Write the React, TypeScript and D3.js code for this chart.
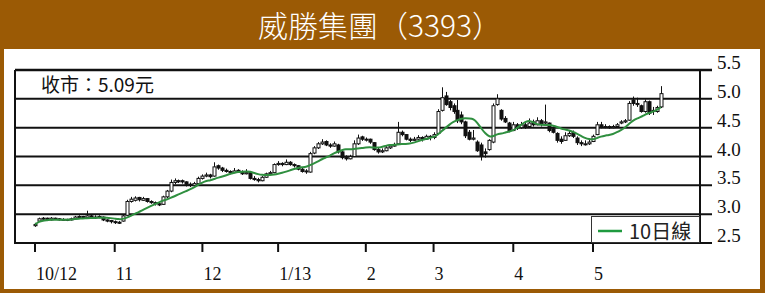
import React from "react";
import * as d3 from "d3";

const title = "威勝集團（3393）";
const lastCloseLabel = "收市：5.09元";
const legendLabel = "10日線";

const yTicks = [2.5, 3.0, 3.5, 4.0, 4.5, 5.0, 5.5];
const monthTickIndex = [0, 20, 42, 61, 83, 100, 120, 140];
const monthLabels = ["10/12", "11", "12", "1/13", "2", "3", "4", "5"];

const opens = [
  2.80, 2.88, 2.92, 2.93, 2.90, 2.93, 2.92, 2.90, 2.91, 2.90,
  2.92, 2.95, 2.96, 2.94, 2.97, 2.95, 2.94, 2.95, 2.90, 2.89,
  2.87, 2.86, 2.88, 2.98, 3.22, 3.24, 3.29, 3.24, 3.27, 3.22,
  3.20, 3.18, 3.17, 3.30, 3.40, 3.55, 3.58, 3.58, 3.56, 3.52,
  3.50, 3.53, 3.62, 3.66, 3.68, 3.66, 3.84, 3.80, 3.76, 3.74,
  3.72, 3.76, 3.74, 3.70, 3.72, 3.62, 3.60, 3.58, 3.64, 3.70,
  3.72, 3.86, 3.88, 3.86, 3.90, 3.86, 3.84, 3.78, 3.74, 3.73,
  4.06, 4.15, 4.22, 4.26, 4.20, 4.18, 4.20, 4.08, 3.98, 3.96,
  4.00, 4.22, 4.34, 4.30, 4.30, 4.24, 4.12, 4.08, 4.10, 4.15,
  4.18, 4.22, 4.42, 4.38, 4.30, 4.28, 4.30, 4.33, 4.30, 4.35,
  4.33, 4.40, 4.80, 5.05, 4.95, 4.88, 4.80, 4.72, 4.60, 4.42,
  4.30, 4.25, 4.20, 4.08, 4.12, 4.25, 4.90, 4.80, 4.66, 4.58,
  4.45, 4.55, 4.50, 4.55, 4.52, 4.60, 4.55, 4.62, 4.58, 4.58,
  4.48, 4.40, 4.30, 4.28, 4.36, 4.42, 4.32, 4.24, 4.22, 4.22,
  4.26, 4.38, 4.55, 4.52, 4.52, 4.50, 4.52, 4.58, 4.60, 4.63,
  4.98, 4.92, 4.88, 4.78, 4.95, 4.80, 4.78, 4.86,
];
const highs = [
  2.85, 2.94, 2.95, 2.94, 2.95, 2.94, 2.93, 2.93, 2.92, 2.94,
  2.97, 2.98, 2.97, 3.06, 2.99, 2.98, 2.98, 2.96, 2.91, 2.90,
  2.89, 2.88, 3.00, 3.25, 3.30, 3.31, 3.30, 3.30, 3.28, 3.24,
  3.22, 3.20, 3.32, 3.42, 3.60, 3.62, 3.60, 3.60, 3.57, 3.55,
  3.56, 3.65, 3.69, 3.72, 3.70, 3.90, 3.86, 3.82, 3.79, 3.76,
  3.80, 3.78, 3.76, 3.78, 3.73, 3.66, 3.63, 3.66, 3.72, 3.75,
  3.88, 3.92, 3.90, 3.95, 3.92, 3.88, 3.85, 3.80, 3.78, 4.08,
  4.18, 4.25, 4.30, 4.28, 4.23, 4.26, 4.22, 4.10, 4.02, 4.03,
  4.28, 4.38, 4.36, 4.33, 4.31, 4.25, 4.15, 4.14, 4.18, 4.20,
  4.24, 4.60, 4.45, 4.39, 4.33, 4.34, 4.37, 4.35, 4.38, 4.37,
  4.42, 4.82, 5.20, 5.12, 4.98, 4.92, 4.98, 4.78, 4.62, 4.46,
  4.46, 4.28, 4.24, 4.14, 4.30, 4.92, 5.08, 4.82, 4.70, 4.60,
  4.60, 4.58, 4.60, 4.58, 4.66, 4.64, 4.68, 4.65, 4.90, 4.59,
  4.52, 4.42, 4.35, 4.42, 4.46, 4.45, 4.35, 4.28, 4.28, 4.30,
  4.38, 4.60, 4.60, 4.56, 4.54, 4.55, 4.58, 4.63, 4.65, 4.96,
  5.04, 5.02, 4.90, 4.99, 4.97, 4.86, 4.88, 5.22,
];
const lows = [
  2.78, 2.87, 2.90, 2.89, 2.89, 2.90, 2.89, 2.89, 2.88, 2.89,
  2.91, 2.93, 2.92, 2.93, 2.93, 2.92, 2.93, 2.88, 2.86, 2.84,
  2.83, 2.83, 2.87, 2.97, 3.20, 3.22, 3.22, 3.23, 3.20, 3.18,
  3.15, 3.14, 3.16, 3.28, 3.38, 3.52, 3.54, 3.53, 3.48, 3.47,
  3.49, 3.52, 3.60, 3.64, 3.62, 3.65, 3.77, 3.73, 3.72, 3.69,
  3.71, 3.72, 3.68, 3.69, 3.60, 3.58, 3.55, 3.57, 3.63, 3.68,
  3.71, 3.84, 3.83, 3.85, 3.84, 3.81, 3.76, 3.72, 3.70, 3.72,
  4.04, 4.13, 4.20, 4.18, 4.15, 4.17, 4.05, 3.95, 3.93, 3.95,
  3.99, 4.20, 4.27, 4.26, 4.22, 4.10, 4.05, 4.06, 4.09, 4.13,
  4.17, 4.21, 4.35, 4.28, 4.25, 4.27, 4.29, 4.26, 4.29, 4.28,
  4.30, 4.38, 4.78, 4.88, 4.80, 4.74, 4.58, 4.56, 4.32, 4.28,
  4.28, 4.08, 3.93, 3.98, 4.10, 4.23, 4.88, 4.62, 4.58, 4.42,
  4.44, 4.46, 4.48, 4.48, 4.50, 4.52, 4.54, 4.52, 4.56, 4.42,
  4.40, 4.24, 4.22, 4.27, 4.34, 4.32, 4.20, 4.18, 4.19, 4.20,
  4.25, 4.37, 4.49, 4.49, 4.48, 4.49, 4.50, 4.56, 4.58, 4.62,
  4.88, 4.86, 4.76, 4.76, 4.72, 4.72, 4.76, 4.84,
];
const closes = [
  2.82, 2.92, 2.93, 2.91, 2.93, 2.92, 2.90, 2.91, 2.90, 2.92,
  2.95, 2.96, 2.94, 2.97, 2.95, 2.94, 2.96, 2.90, 2.88, 2.87,
  2.86, 2.85, 2.97, 3.22, 3.26, 3.28, 3.25, 3.27, 3.22, 3.20,
  3.18, 3.16, 3.30, 3.40, 3.55, 3.58, 3.57, 3.56, 3.52, 3.50,
  3.53, 3.62, 3.66, 3.68, 3.65, 3.82, 3.80, 3.76, 3.74, 3.72,
  3.75, 3.74, 3.70, 3.72, 3.62, 3.60, 3.58, 3.64, 3.70, 3.72,
  3.86, 3.88, 3.86, 3.90, 3.86, 3.84, 3.78, 3.74, 3.75, 4.05,
  4.15, 4.22, 4.25, 4.20, 4.18, 4.22, 4.08, 3.98, 3.96, 4.00,
  4.22, 4.32, 4.30, 4.30, 4.25, 4.12, 4.08, 4.10, 4.15, 4.18,
  4.20, 4.42, 4.38, 4.30, 4.28, 4.30, 4.33, 4.30, 4.35, 4.33,
  4.38, 4.78, 5.02, 4.90, 4.85, 4.78, 4.62, 4.60, 4.36, 4.30,
  4.32, 4.10, 4.00, 4.05, 4.28, 4.88, 5.00, 4.65, 4.60, 4.45,
  4.55, 4.50, 4.55, 4.52, 4.58, 4.55, 4.62, 4.56, 4.60, 4.45,
  4.42, 4.28, 4.26, 4.36, 4.40, 4.35, 4.24, 4.22, 4.22, 4.25,
  4.35, 4.55, 4.52, 4.52, 4.50, 4.52, 4.55, 4.60, 4.62, 4.92,
  4.92, 4.90, 4.78, 4.95, 4.75, 4.78, 4.85, 5.09,
];

const MA_WINDOW = 10;

const BROWN = "#9b5a05";
const GREEN = "#2f8f3f";
const INK = "#111";

export default function App() {
  const W = 765;
  const H = 293;
  const left = 15;
  const right = 700;
  const top = 70;
  const bottom = 243;

  const y = d3.scaleLinear().domain([2.5, 5.5]).range([bottom, top]);
  const x = d3.scaleLinear().domain([0, 140]).range([35, 593]);

  const ma = closes.map((_, i) => {
    const s = closes.slice(Math.max(0, i - MA_WINDOW + 1), i + 1);
    return d3.mean(s) as number;
  });
  const maPath = d3
    .line<number>()
    .x((_, i) => x(i))
    .y((d) => y(d))
    .curve(d3.curveBasis)(ma) as string;

  const bw = 3;

  return (
    <div style={{ position: "fixed", left: 0, top: 0 }}>
      <svg width={W} height={H} style={{ display: "block" }}>
        <rect x={0} y={0} width={W} height={H} fill={BROWN} />
        <rect x={4} y={49} width={756} height={240} fill="#ffffff" />
        <text
          x={380}
          y={37}
          textAnchor="middle"
          fill="#ffffff"
          fontFamily="'Noto Sans CJK TC', 'Noto Sans', sans-serif"
          fontSize={30}
          fontWeight={300}
        >
          {title}
        </text>

        {/* grid lines */}
        {yTicks.map((t) => (
          <line
            key={t}
            x1={left}
            x2={712}
            y1={y(t)}
            y2={y(t)}
            stroke={INK}
            strokeWidth={t === 5.5 ? 2.5 : 2}
          />
        ))}
        <line x1={left} x2={left} y1={top} y2={bottom + 1} stroke={INK} strokeWidth={2} />
        <line x1={right} x2={right} y1={top} y2={bottom + 1} stroke={INK} strokeWidth={2} />

        {/* y labels */}
        {yTicks.map((t) => (
          <text
            key={"l" + t}
            x={717}
            y={y(t) - 1}
            fontFamily="'Liberation Serif', serif"
            fontSize={19}
            fill={INK}
          >
            {t.toFixed(1)}
          </text>
        ))}

        {/* x ticks */}
        {monthTickIndex.map((m, k) => (
          <g key={"m" + k}>
            <line x1={x(m)} x2={x(m)} y1={bottom} y2={bottom + 9} stroke={INK} strokeWidth={2} />
            <text
              x={x(m) + 1}
              y={280}
              fontFamily="'Liberation Serif', serif"
              fontSize={18}
              fill={INK}
            >
              {monthLabels[k]}
            </text>
          </g>
        ))}

        {/* candles */}
        {closes.map((c, i) => {
          const o = opens[i];
          const cx = Math.round(x(i)) + 0.5;
          const up = c >= o;
          const yt = y(Math.max(o, c));
          const yb = y(Math.min(o, c));
          return (
            <g key={"c" + i}>
              <line x1={cx} x2={cx} y1={y(highs[i])} y2={y(lows[i])} stroke={INK} strokeWidth={1} />
              <rect
                x={cx - bw / 2}
                y={yt}
                width={bw}
                height={Math.max(1, yb - yt)}
                fill={up ? "#ffffff" : INK}
                stroke={INK}
                strokeWidth={1}
              />
            </g>
          );
        })}

        {/* moving average */}
        <path d={maPath} fill="none" stroke={GREEN} strokeWidth={2} />

        {/* last close label */}
        <text
          x={41}
          y={92}
          fontFamily="'Noto Sans CJK TC', 'Noto Sans', sans-serif"
          fontSize={19}
          fill={INK}
        >
          {lastCloseLabel}
        </text>

        {/* legend */}
        <rect x={591.5} y={216.5} width={108} height={26} fill="#ffffff" stroke="#333" strokeWidth={1} />
        <line x1={598} x2={622} y1={231} y2={231} stroke="#1f9a3f" strokeWidth={2.5} />
        <text
          x={629}
          y={238.5}
          fontFamily="'Noto Sans CJK TC', 'Noto Sans', sans-serif"
          fontSize={20}
          fill="#222"
        >
          {legendLabel}
        </text>
      </svg>
    </div>
  );
}
